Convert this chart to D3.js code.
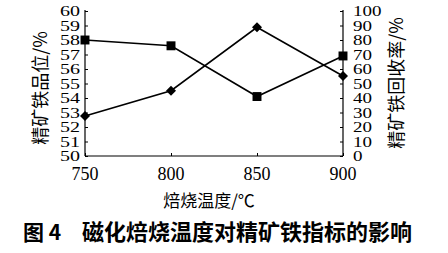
<!DOCTYPE html>
<html><head><meta charset="utf-8">
<script src="https://cdn.jsdelivr.net/npm/d3@7"></script>
<style>
html,body{margin:0;padding:0;background:#fff;}
svg{display:block;}
</style></head>
<body>
<svg id="c" width="448" height="253"></svg>
<script>
const temps = [750, 800, 850, 900];
const gradeValues = [58.0, 57.6, 54.1, 56.9];      // squares, left axis
const recoveryValues = [27.6, 45.0, 88.8, 55.2];   // diamonds, right axis
const xTicks = [750, 800, 850, 900];
const leftTicks = [50, 51, 52, 53, 54, 55, 56, 57, 58, 59, 60];
const rightTicks = [0, 10, 20, 30, 40, 50, 60, 70, 80, 90, 100];
const xTitle = "焙烧温度/℃";
const leftTitle = "精矿铁品位/%";
const rightTitle = "精矿铁回收率/%";
const caption = ["图 4", "磁化焙烧温度对精矿铁指标的影响"];

const svg = d3.select("#c");
const L = 85, R = 343, T = 11, B = 156;
const x = d3.scaleLinear().domain([750, 900]).range([L, R]);
const yL = d3.scaleLinear().domain([50, 60]).range([B, T]);
const yR = d3.scaleLinear().domain([0, 100]).range([B, T]);
const serif = "'Liberation Serif','DejaVu Serif',serif";
const cjk = "'Noto Sans CJK SC','Noto Sans',sans-serif";

// axes
const ax = svg.append("g").attr("fill", "none").attr("stroke", "#000").attr("stroke-width", 1.2);
ax.append("line").attr("x1", L).attr("x2", L).attr("y1", T - 1).attr("y2", B);
ax.append("line").attr("x1", R).attr("x2", R).attr("y1", T - 1).attr("y2", B);
ax.append("line").attr("x1", L).attr("x2", R).attr("y1", B).attr("y2", B);

const gl = svg.append("g").attr("transform", `translate(${L},0)`)
  .call(d3.axisRight(yL).tickValues(leftTicks).tickSize(3).tickFormat(""));
const gr = svg.append("g").attr("transform", `translate(${R},0)`)
  .call(d3.axisLeft(yR).tickValues(rightTicks).tickSize(3).tickFormat(""));
const gb = svg.append("g").attr("transform", `translate(0,${B})`)
  .call(d3.axisTop(x).tickValues(xTicks).tickSize(3).tickFormat(""));
[gl, gr, gb].forEach(g => { g.select(".domain").remove(); g.selectAll("line").attr("stroke", "#000").attr("stroke-width", 1); });

// tick labels
svg.append("g").selectAll("text").data(leftTicks).join("text")
  .attr("x", L - 5).attr("y", d => yL(d)).attr("dy", "0.35em")
  .attr("text-anchor", "end").attr("font-family", serif).attr("font-size", 15)
  .attr("textLength", 20).attr("lengthAdjust", "spacingAndGlyphs")
  .text(d => d);
svg.append("g").selectAll("text").data(rightTicks).join("text")
  .attr("x", R + 10).attr("y", d => yR(d)).attr("dy", "0.35em")
  .attr("text-anchor", "start").attr("font-family", serif).attr("font-size", 15)
  .attr("textLength", d => String(d).length * 9.5).attr("lengthAdjust", "spacingAndGlyphs")
  .text(d => d);
svg.append("g").selectAll("text").data(xTicks).join("text")
  .attr("x", d => x(d)).attr("y", 180)
  .attr("text-anchor", "middle").attr("font-family", serif).attr("font-size", 18)
  .text(d => d);

// titles
svg.append("text").attr("transform", "translate(47,88) rotate(-90)")
  .attr("text-anchor", "middle").attr("font-family", cjk).attr("font-size", 18).text(leftTitle);
svg.append("text").attr("transform", "translate(403,83) rotate(-90)")
  .attr("text-anchor", "middle").attr("font-family", cjk).attr("font-size", 18).text(rightTitle);
svg.append("text").attr("x", 209).attr("y", 207)
  .attr("text-anchor", "middle").attr("font-family", cjk).attr("font-size", 17).text(xTitle);

// caption
svg.append("text").attr("x", 23).attr("y", 240).attr("font-family", cjk)
  .attr("font-size", 21).attr("font-weight", "bold").text(caption[0]);
svg.append("text").attr("x", 82).attr("y", 240).attr("font-family", cjk)
  .attr("font-size", 22).attr("font-weight", "bold").text(caption[1]);

// series
const gradePts = temps.map((t, i) => [x(t), yL(gradeValues[i])]);
const recPts = temps.map((t, i) => [x(t), yR(recoveryValues[i])]);
const line = d3.line();
svg.append("path").attr("d", line(gradePts)).attr("fill", "none").attr("stroke", "#000").attr("stroke-width", 1.6);
svg.append("path").attr("d", line(recPts)).attr("fill", "none").attr("stroke", "#000").attr("stroke-width", 1.6);
svg.append("g").selectAll("path").data(gradePts).join("path")
  .attr("transform", d => `translate(${d[0]},${d[1]})`)
  .attr("d", d3.symbol(d3.symbolSquare, 80)).attr("fill", "#000");
svg.append("g").selectAll("path").data(recPts).join("path")
  .attr("transform", d => `translate(${d[0]},${d[1]}) rotate(45)`)
  .attr("d", d3.symbol(d3.symbolSquare, 50)).attr("fill", "#000");
</script>
</body></html>
